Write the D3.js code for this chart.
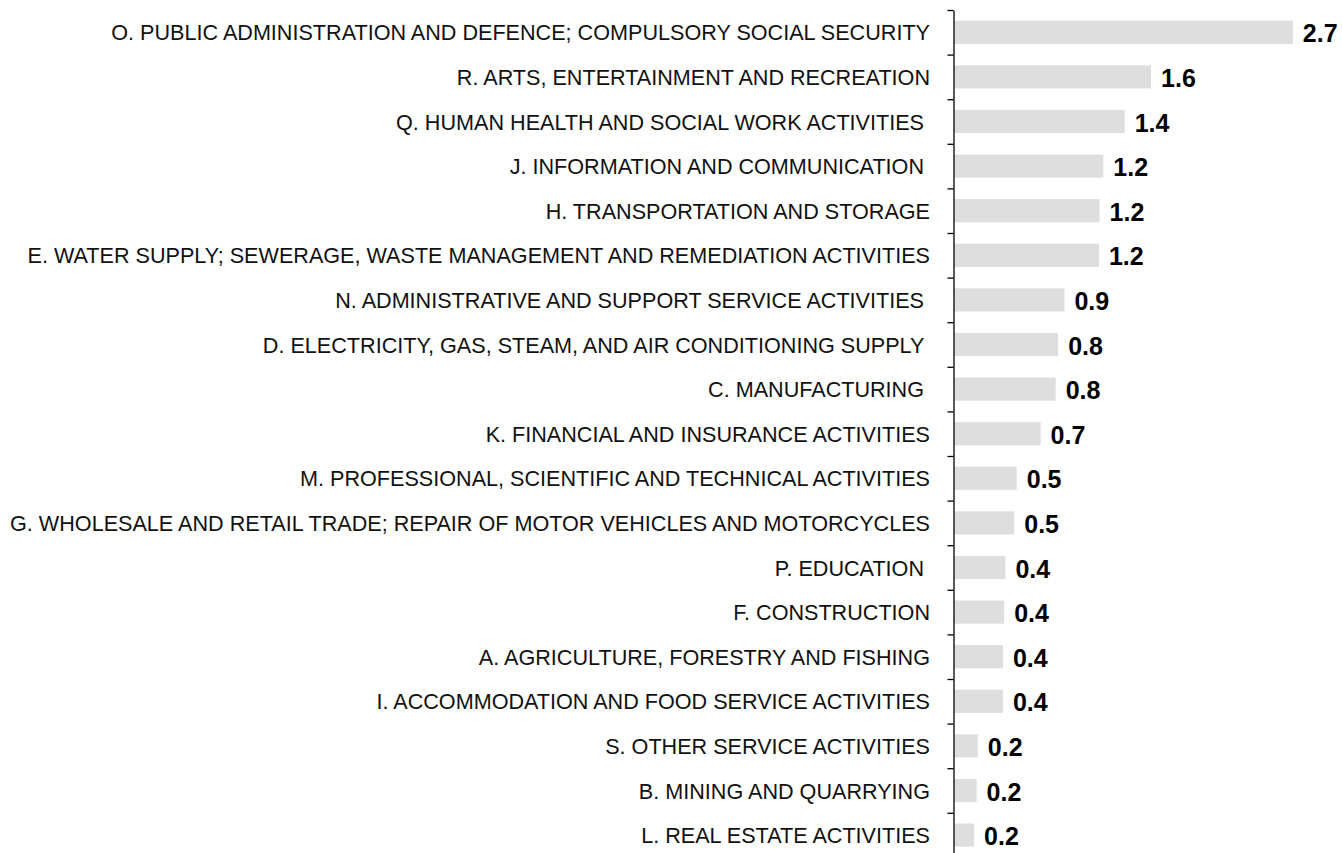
<!DOCTYPE html>
<html>
<head>
<meta charset="utf-8">
<script src="https://cdn.jsdelivr.net/npm/d3@7"></script>
<style>
  html, body { margin: 0; padding: 0; background: #fff; }
  svg { display: block; }
  .cat { font-family: "Liberation Sans", Arial, sans-serif; font-size: 21.6px; fill: #111; white-space: pre; }
  .val { font-family: "Liberation Sans", Arial, sans-serif; font-size: 25px; font-weight: bold; fill: #000; }
</style>
</head>
<body>
<svg id="chart" width="1342" height="853"></svg>
<script>
// Industry sections (some source labels carry a trailing space)
const categories = [
  "O. PUBLIC ADMINISTRATION AND DEFENCE; COMPULSORY SOCIAL SECURITY",
  "R. ARTS, ENTERTAINMENT AND RECREATION",
  "Q. HUMAN HEALTH AND SOCIAL WORK ACTIVITIES ",
  "J. INFORMATION AND COMMUNICATION ",
  "H. TRANSPORTATION AND STORAGE",
  "E. WATER SUPPLY; SEWERAGE, WASTE MANAGEMENT AND REMEDIATION ACTIVITIES",
  "N. ADMINISTRATIVE AND SUPPORT SERVICE ACTIVITIES ",
  "D. ELECTRICITY, GAS, STEAM, AND AIR CONDITIONING SUPPLY ",
  "C. MANUFACTURING ",
  "K. FINANCIAL AND INSURANCE ACTIVITIES",
  "M. PROFESSIONAL, SCIENTIFIC AND TECHNICAL ACTIVITIES",
  "G. WHOLESALE AND RETAIL TRADE; REPAIR OF MOTOR VEHICLES AND MOTORCYCLES",
  "P. EDUCATION ",
  "F. CONSTRUCTION",
  "A. AGRICULTURE, FORESTRY AND FISHING",
  "I. ACCOMMODATION AND FOOD SERVICE ACTIVITIES",
  "S. OTHER SERVICE ACTIVITIES",
  "B. MINING AND QUARRYING",
  "L. REAL ESTATE ACTIVITIES"
];

// Values per section (labels show one decimal)
const values = [2.70, 1.57, 1.36, 1.19, 1.16, 1.155, 0.88, 0.83, 0.81, 0.69,
                0.50, 0.48, 0.41, 0.40, 0.39, 0.39, 0.19, 0.18, 0.16];

const data = categories.map((c, i) => ({ cat: c, value: values[i] }));

const svg = d3.select("#chart");
const axisX = 954;
const plotTop = 10, step = 44.6;
const plotBottom = plotTop + step * categories.length;

const x = d3.scaleLinear().domain([0, 1]).range([axisX, axisX + 125.5]);
const y = d3.scaleBand()
  .domain(categories)
  .range([plotTop, plotBottom])
  .paddingInner(0.48)
  .paddingOuter(0.24);

// Bars
svg.append("g")
  .selectAll("rect")
  .data(data)
  .join("rect")
  .attr("x", x(0))
  .attr("y", d => y(d.cat))
  .attr("width", d => x(d.value) - x(0))
  .attr("height", y.bandwidth())
  .attr("fill", "#dedede");

// Vertical axis with ticks at band boundaries
const edge = d3.scaleLinear().domain([0, categories.length]).range([plotTop, plotBottom]);
const axis = svg.append("g")
  .attr("transform", `translate(${axisX - 0.5},0)`)
  .call(d3.axisLeft(edge)
    .tickValues(d3.range(categories.length + 1))
    .tickSize(6)
    .tickSizeOuter(0)
    .tickFormat(""));
axis.select(".domain").attr("stroke", "#000").attr("stroke-width", 1.3);
axis.selectAll(".tick line").attr("stroke", "#000").attr("stroke-width", 1.3);

// Category labels
svg.append("g")
  .selectAll("text")
  .data(data)
  .join("text")
  .attr("class", "cat")
  .attr("x", axisX - 24)
  .attr("y", d => y(d.cat) + y.bandwidth() / 2 + 0.5)
  .attr("text-anchor", "end")
  .attr("dominant-baseline", "central")
  .text(d => d.cat);

// Value labels
const fmt = d3.format(".1f");
svg.append("g")
  .selectAll("text")
  .data(data)
  .join("text")
  .attr("class", "val")
  .attr("x", d => x(d.value) + 10)
  .attr("y", d => y(d.cat) + y.bandwidth() / 2 + 1)
  .attr("dominant-baseline", "central")
  .text(d => fmt(d.value));
</script>
</body>
</html>
